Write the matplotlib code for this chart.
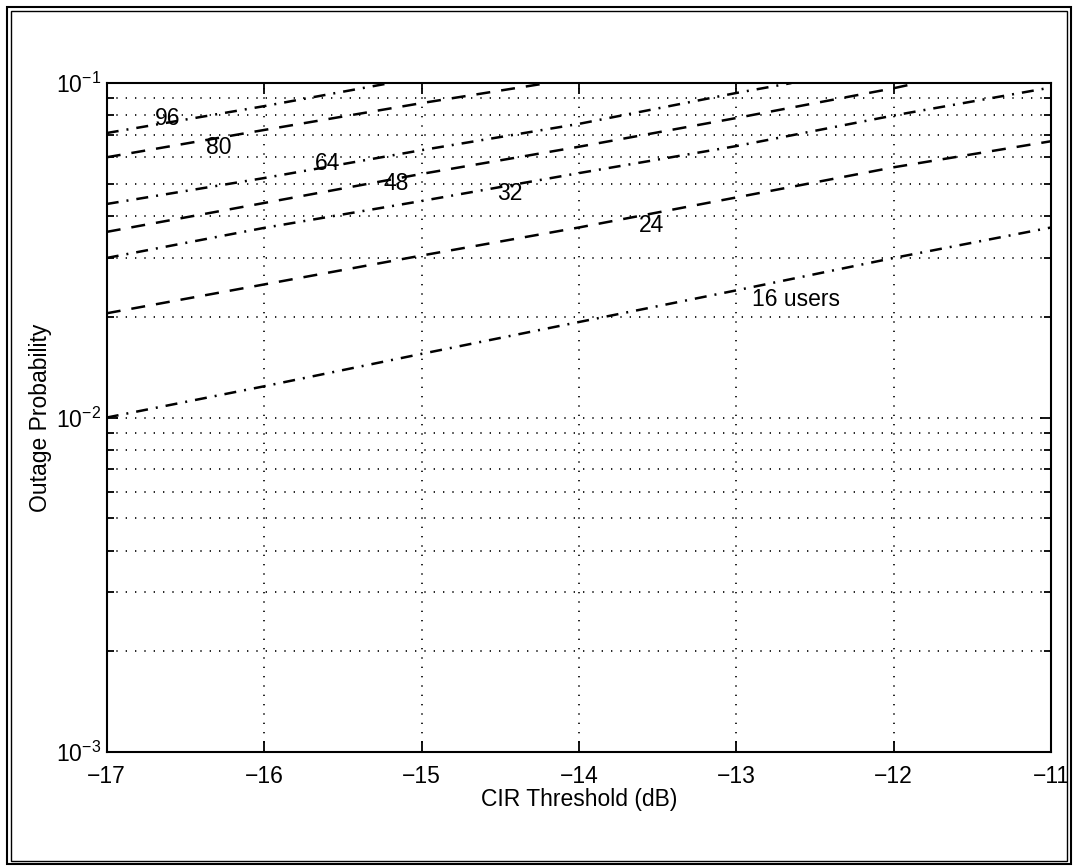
import matplotlib
matplotlib.use("Agg")
import matplotlib.pyplot as plt
import matplotlib.ticker as mticker
from matplotlib.patches import Rectangle
import numpy as np

plt.rcParams['font.family'] = ['Liberation Sans', 'DejaVu Sans']
plt.rcParams['mathtext.fontset'] = 'custom'
plt.rcParams['mathtext.rm'] = 'Liberation Sans'

# outage probability vs CIR threshold
cir_16 = [-17, -16, -15, -14, -13, -12, -11]
p_16 = [0.0100, 0.0124, 0.0155, 0.0193, 0.0240, 0.0300, 0.0370]
cir_24 = [-17, -16, -15, -14, -13, -12, -11]
p_24 = [0.0205, 0.0250, 0.0305, 0.0370, 0.0455, 0.0560, 0.0670]
cir_32 = [-17, -16, -15, -14, -13, -12, -11]
p_32 = [0.0300, 0.0369, 0.0444, 0.0538, 0.0648, 0.0800, 0.0970]
cir_48 = [-17, -16, -15, -14, -13, -12, -11.85]
p_48 = [0.0359, 0.0438, 0.0535, 0.0645, 0.0786, 0.0965, 0.1000]
cir_64 = [-17, -16, -15, -14, -13, -12.65]
p_64 = [0.0435, 0.0520, 0.0630, 0.0755, 0.0934, 0.1000]
cir_80 = [-17, -16, -15, -14.2]
p_80 = [0.0600, 0.0724, 0.0871, 0.1000]
cir_96 = [-17, -16, -15.2]
p_96 = [0.0709, 0.0853, 0.1000]

labels = ['16 users', '24', '32', '48', '64', '80', '96']
label_x = [-12.62, -13.54, -14.44, -15.16, -15.6, -16.29, -16.61]
label_y = [0.0225, 0.0374, 0.0469, 0.0502, 0.0576, 0.064, 0.0786]

dashdot = (0, (4.8, 3.2, 0.8, 3.2))
dashed = (0, (5.6, 4.4))

fig = plt.figure(figsize=(10.77, 8.67), dpi=100)
ax = fig.add_axes([0.0991, 0.1326, 0.8768, 0.7716])

series = [(cir_16, p_16, dashdot), (cir_24, p_24, dashed), (cir_32, p_32, dashdot),
          (cir_48, p_48, dashed), (cir_64, p_64, dashdot), (cir_80, p_80, dashed),
          (cir_96, p_96, dashdot)]
for x, y, ls in series:
  ax.plot(x, y, color='black', lw=1.8, linestyle=ls, dash_capstyle='butt')

for t, x, y in zip(labels, label_x, label_y):
  ax.text(x, y, t, ha='center', va='center', fontsize=16.5)

ax.set_yscale('log')
ax.set_xlim(-17, -11)
ax.set_ylim(1e-3, 1e-1)
ax.set_xticks([-17, -16, -15, -14, -13, -12, -11])
ax.xaxis.set_major_formatter(mticker.FuncFormatter(lambda v, p: '\u2212%d' % abs(v)))
ax.yaxis.set_major_locator(mticker.LogLocator(base=10, numticks=10))
ax.yaxis.set_minor_locator(mticker.LogLocator(base=10, subs=np.arange(2, 10), numticks=20))
ax.yaxis.set_minor_formatter(mticker.NullFormatter())

grid_ls = (0, (0.8, 4.8))
ax.grid(True, which='major', axis='both', color='black', lw=1.2, linestyle=grid_ls)
ax.grid(True, which='minor', axis='y', color='black', lw=1.2, linestyle=grid_ls)

ax.tick_params(which='both', direction='in', top=True, right=True, labelsize=16.5, width=1.3)
ax.tick_params(axis='x', pad=9)
ax.tick_params(axis='y', pad=4)
ax.tick_params(which='major', length=8)
ax.tick_params(which='minor', length=5)
for s in ax.spines.values():
  s.set_linewidth(1.5)

ax.set_xlabel('CIR Threshold (dB)', fontsize=16.5, labelpad=0)
ax.set_ylabel('Outage Probability', fontsize=16.5, labelpad=3)

# double frame round the whole page
W, H = 1077.0, 867.0
fig.add_artist(Rectangle((7 / W, 3 / H), 1064 / W, 857 / H, transform=fig.transFigure,
                         fill=False, lw=1.5, ec='black'))
fig.add_artist(Rectangle((11 / W, 6 / H), 1056 / W, 850 / H, transform=fig.transFigure,
                         fill=False, lw=1.0, ec='black'))

fig.savefig('out.png', dpi=100)
